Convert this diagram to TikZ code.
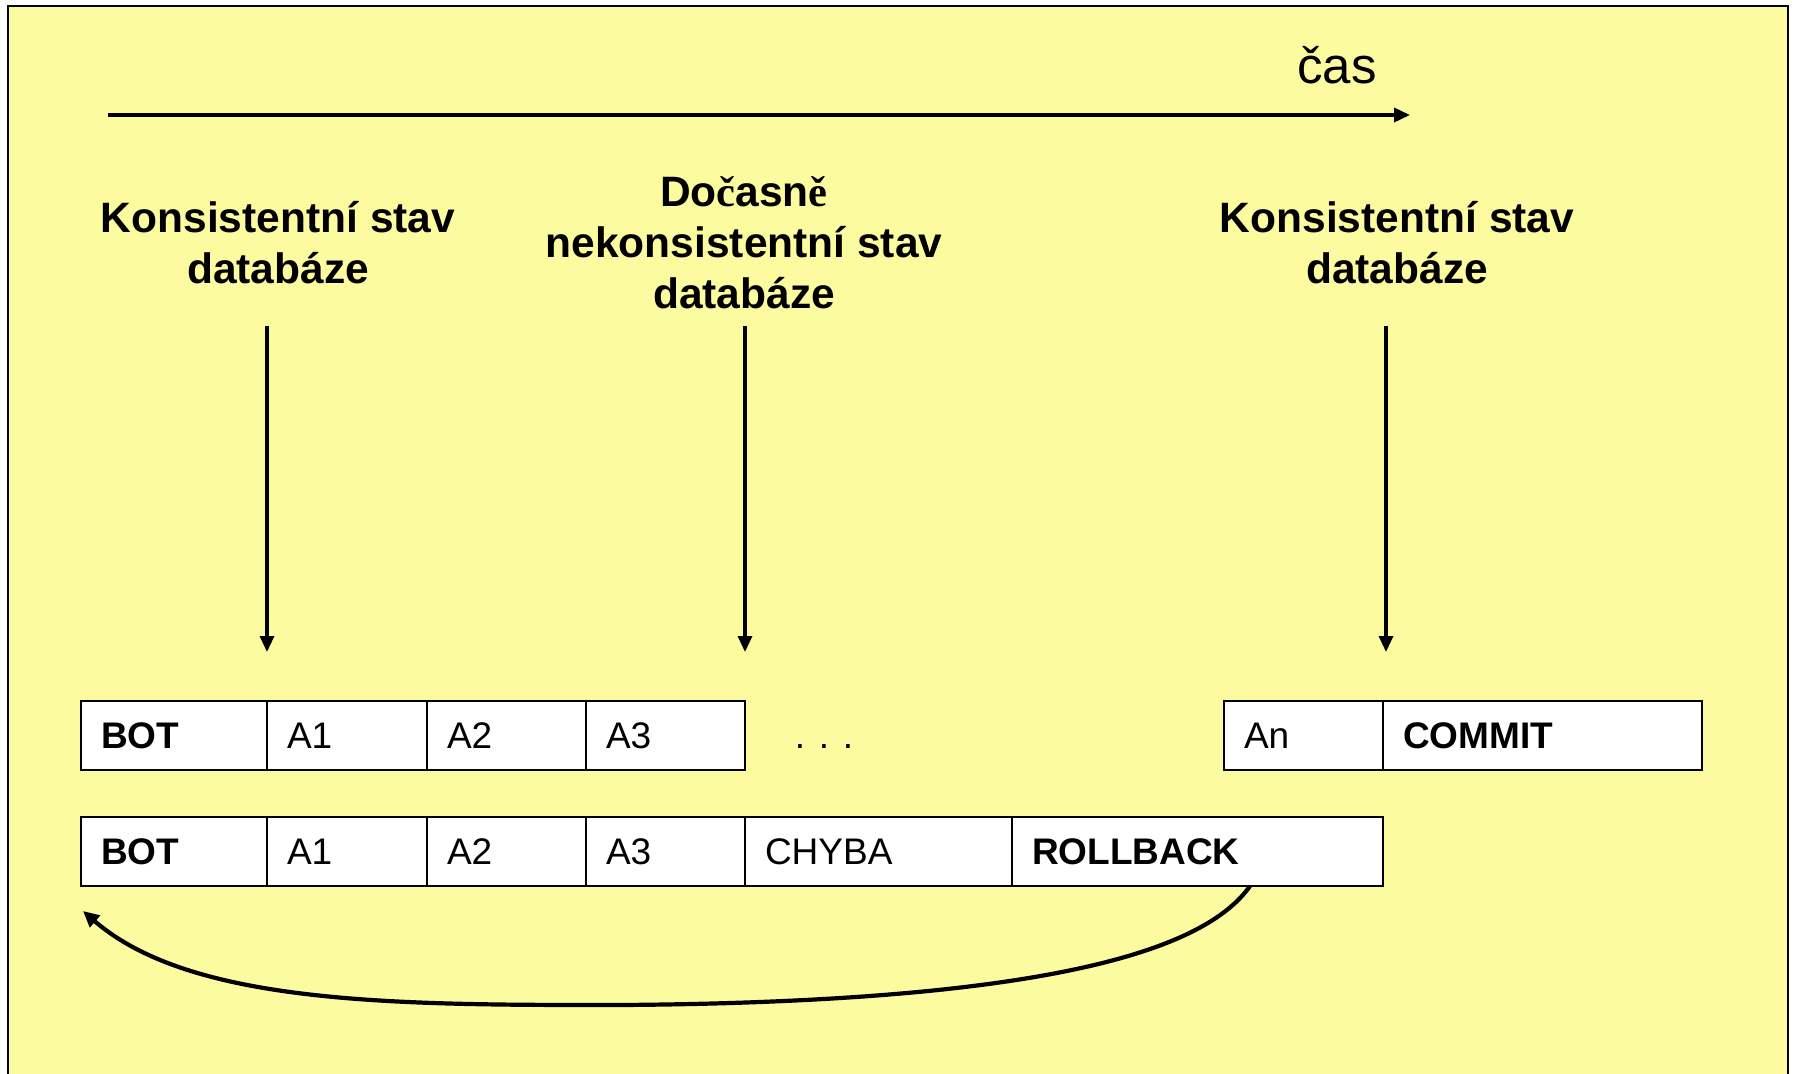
\documentclass[tikz,border=0pt]{standalone}
\usepackage{fontspec}
\setmainfont{Liberation Sans}
\newfontfamily\serifbold{Liberation Serif}
\usetikzlibrary{arrows.meta,calc}
\definecolor{bgyellow}{RGB}{252,251,160}
\begin{document}
\begin{tikzpicture}[x=1pt,y=-1pt,
  cell/.style={draw=black, fill=white, line width=2.2pt, minimum height=69pt, outer sep=0pt,
    inner xsep=20pt, inner ysep=0pt, align=left, text height=26.6pt, text depth=0pt,
    font=\fontsize{37}{44}\selectfont, anchor=west},
  heading/.style={align=center, font=\fontsize{42.5}{51}\selectfont\bfseries},
  arr/.style={line width=3.2pt, -{Triangle[length=16pt,width=14pt]}},
]
\clip (0,0) rectangle (1795,1073);
\fill[white] (0,0) rectangle (1795,1073);
\draw[line width=2pt, fill=bgyellow] (8,6) rectangle (1788,1100);

% time axis
\coordinate (t0) at (108,115);
\coordinate (t1) at (1410,115);
\draw[arr, line width=3.5pt] (t0) -- (t1);
\node[font=\fontsize{51}{60}\selectfont, anchor=base] (cas) at (1337,83) {čas};

% headings
\node[heading] (h1) at (278,243) {Konsistentní stav\\databáze};
\node[heading] (h2) at (744,243) {Do{\serifbold č}asn{\serifbold ě}\\nekonsistentní stav\\databáze};
\node[heading] (h3) at (1397,243) {Konsistentní stav\\databáze};

% row 1
\node[cell, text width=146pt, anchor=north west] (bot1) at (81,701) {\bfseries BOT};
\node[cell, text width=120pt] (a1r1) at (bot1.east) {A1};
\node[cell, text width=119pt] (a2r1) at (a1r1.east) {A2};
\node[cell, text width=119pt] (a3r1) at (a2r1.east) {A3};
\node[font=\fontsize{37}{44}\selectfont, text height=26.6pt, text depth=0pt, inner sep=0pt] (dots) at (824,735.5) {. . .};
\node[cell, text width=119pt] (an) at (1224,735.5) {An};
\node[cell, text width=279pt] (commit) at (an.east) {\bfseries COMMIT};

% row 2
\node[cell, text width=146pt, anchor=north west] (bot2) at (81,817) {\bfseries BOT};
\node[cell, text width=120pt] (a1r2) at (bot2.east) {A1};
\node[cell, text width=119pt] (a2r2) at (a1r2.east) {A2};
\node[cell, text width=119pt] (a3r2) at (a2r2.east) {A3};
\node[cell, text width=227pt] (chyba) at (a3r2.east) {CHYBA};
\node[cell, text width=331pt] (rb) at (chyba.east) {\bfseries ROLLBACK};

% vertical arrows
\coordinate (v1) at (bot1.north east |- 0,326);
\coordinate (v2) at (a3r1.north east |- 0,326);
\coordinate (v3) at ($(an.north east |- 0,326)+(3,0)$);
\draw[arr] (v1) -- ($(bot1.north east)+(0,-49)$);
\draw[arr] (v2) -- ($(a3r1.north east)+(0,-49)$);
\draw[arr] (v3) -- ($(an.north east)+(3,-49)$);

% rollback curve
\coordinate (cb) at (620,1005);
\draw[line width=4.2pt, -{Triangle[length=16pt,width=15pt]}]
  ($(rb.south west)+(238,0)$) .. controls (1205,950) and (1050,1002) .. (cb)
  .. controls (400,1005) and (192,1005.5) .. ($(bot2.south west)+(2,25)$);
\end{tikzpicture}
\end{document}
